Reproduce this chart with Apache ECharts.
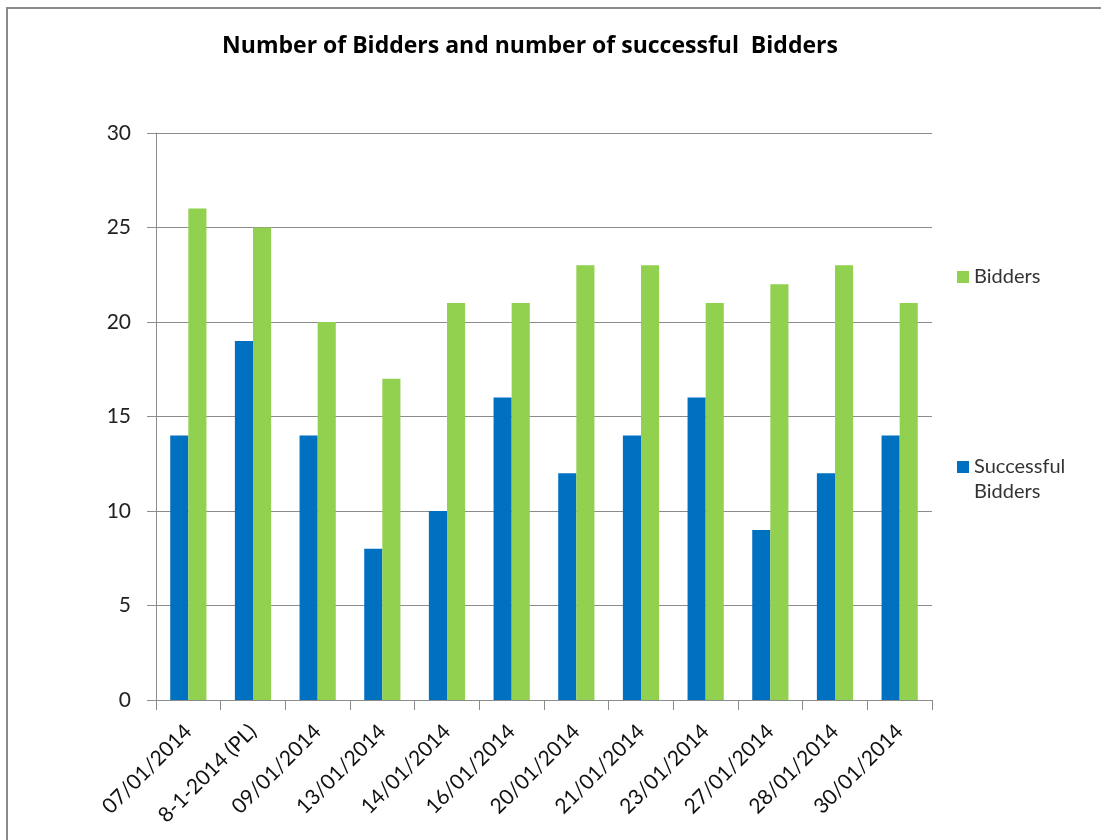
<!DOCTYPE html>
<html>
<head>
<meta charset="utf-8">
<script src="https://cdn.jsdelivr.net/npm/echarts@6/dist/echarts.min.js"></script>
<style>
html, body { margin: 0; padding: 0; background: #fff; }
#frame { position: absolute; left: 6px; top: 7px; width: 1110px; height: 850px; border: 2px solid #8a8a8a; box-sizing: border-box; }
#chart { position: absolute; left: 0; top: 0; width: 1101px; height: 840px; }
</style>
</head>
<body>
<div id="frame"></div>
<div id="chart"></div>
<script>
// categories and values
var dates = ['07/01/2014', '8-1-2014 (PL)', '09/01/2014', '13/01/2014', '14/01/2014', '16/01/2014',
    '20/01/2014', '21/01/2014', '23/01/2014', '27/01/2014', '28/01/2014', '30/01/2014'];
var successful = [14, 19, 14, 8, 10, 16, 12, 14, 16, 9, 12, 14];
var bidders = [26, 25, 20, 17, 21, 21, 23, 23, 21, 22, 23, 21];
var yTicks = [0, 5, 10, 15, 20, 25, 30];

var fontName = 'Lato, "Open Sans", sans-serif';
var chart = echarts.init(document.getElementById('chart'));
var option = {
    animation: false,
    color: ['#0070C0', '#92D050'],
    title: {
        text: 'Number of Bidders and number of successful  Bidders',
        left: 525,
        top: 30,
        textAlign: 'center',
        textStyle: { fontFamily: '"Open Sans", sans-serif', fontSize: 23, fontWeight: 'bold', color: '#000' }
    },
    legend: [
        {
            data: ['Bidders'],
            left: 957,
            top: 267,
            padding: 0,
            orient: 'vertical',
            itemWidth: 12,
            itemHeight: 12,
            icon: 'rect',
            textStyle: { fontFamily: fontName, fontSize: 20, color: '#333' }
        },
        {
            data: ['Successful Bidders'],
            left: 957,
            top: 457,
            padding: 0,
            orient: 'vertical',
            itemWidth: 12,
            itemHeight: 12,
            icon: 'rect',
            formatter: function () { return 'Successful'; },
            textStyle: { fontFamily: fontName, fontSize: 20, color: '#333' }
        }
    ],
    graphic: [
        {
            type: 'text',
            left: 974,
            top: 482,
            style: { text: 'Bidders', fontFamily: fontName, fontSize: 20, fill: '#333' }
        }
    ],
    grid: { left: 156, right: 169, top: 133, bottom: 140 },
    xAxis: {
        type: 'category',
        data: dates,
        axisLine: { lineStyle: { color: '#8c8c8c', width: 1 } },
        axisTick: { show: true, alignWithLabel: false, length: 10, lineStyle: { color: '#8c8c8c' } },
        axisLabel: { rotate: 45, interval: 0, margin: 28, fontFamily: fontName, fontSize: 21, color: '#111' }
    },
    yAxis: {
        type: 'value',
        min: yTicks[0],
        max: yTicks[yTicks.length - 1],
        interval: 5,
        axisLine: { show: true, lineStyle: { color: '#8c8c8c', width: 1 } },
        axisTick: { show: true, length: 9, lineStyle: { color: '#8c8c8c' } },
        splitLine: { lineStyle: { color: '#8c8c8c', width: 1 } },
        axisLabel: { margin: 25, fontFamily: fontName, fontSize: 21, color: '#222' }
    },
    series: [
        {
            name: 'Successful Bidders',
            type: 'bar',
            data: successful,
            barGap: 0,
            barCategoryGap: '44%'
        },
        {
            name: 'Bidders',
            type: 'bar',
            data: bidders,
            barGap: 0,
            barCategoryGap: '44%'
        }
    ]
};
chart.setOption(option);
</script>
</body>
</html>
